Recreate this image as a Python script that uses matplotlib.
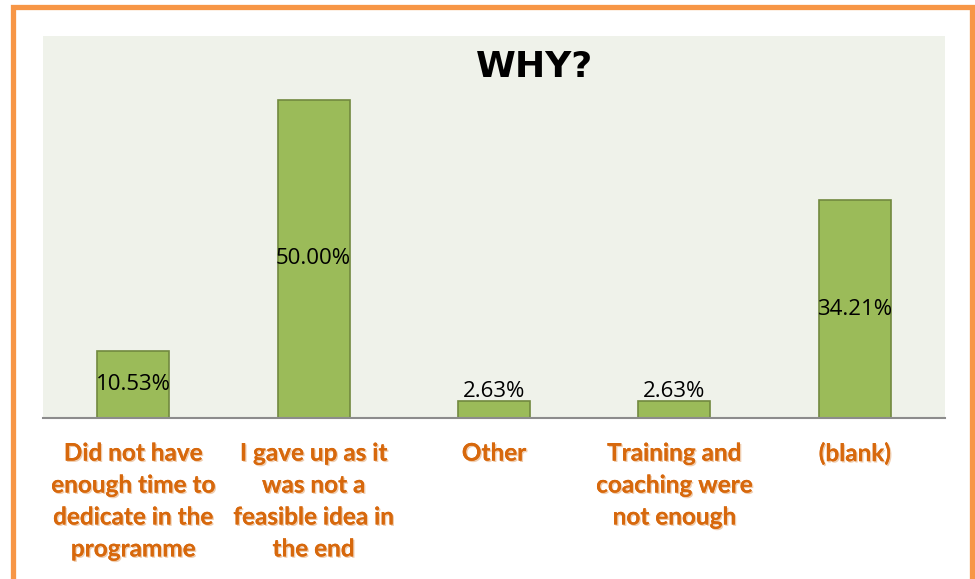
import numpy as np
import matplotlib.pyplot as plt
from matplotlib.patches import Rectangle
from matplotlib import patheffects

categories = ["Did not have\nenough time to\ndedicate in the\nprogramme",
              "I gave up as it\nwas not a\nfeasible idea in\nthe end",
              "Other",
              "Training and\ncoaching were\nnot enough",
              "(blank)"]
values = [10.53, 50.00, 2.63, 2.63, 34.21]

fig = plt.figure(figsize=(9.75, 5.79), dpi=100)
# orange frame around the chart
fig.patches.append(Rectangle((13/975, -0.05), 959/975, 1.05 - 6.5/579,
                             transform=fig.transFigure, fill=False,
                             edgecolor="#F79646", linewidth=3.8, zorder=0))

ax = fig.add_axes([43/975, 1 - 418/579, 902/975, 382/579])
ax.set_facecolor("#EFF2EA")
x = np.arange(len(values))
ax.bar(x, values, width=0.4, color="#9BBB59", edgecolor="#71893F", linewidth=1.2)
ax.set_xlim(-0.5, len(values) - 0.5)
ax.set_ylim(0, 60)

for xi, v in zip(x, values):
    ax.text(xi, max(v / 2, 4.2), f"{v:.2f}%", ha="center", va="center",
            fontsize=16, family="Open Sans", color="black")

ax.set_yticks([])
ax.set_xticks(x)
ax.set_xticklabels(categories, fontsize=17.5, fontweight="bold", family="Lato",
                   color="#D7680C", linespacing=1.47)
for lbl in ax.get_xticklabels():
    lbl.set_path_effects([patheffects.withSimplePatchShadow(offset=(1, -1),
                          shadow_rgbFace="#E9B98F", alpha=0.7), patheffects.Normal()])
ax.tick_params(axis="x", length=0, pad=17)
for s in ["top", "left", "right"]:
    ax.spines[s].set_visible(False)
ax.spines["bottom"].set_color("#8C8C8C")
ax.spines["bottom"].set_linewidth(1.5)

ax.text(0.545, 0.92, "WHY?", transform=ax.transAxes, ha="center", va="center",
        fontsize=26, fontweight="bold", family="DejaVu Sans", color="black")

fig.savefig("out.png", dpi=100)
